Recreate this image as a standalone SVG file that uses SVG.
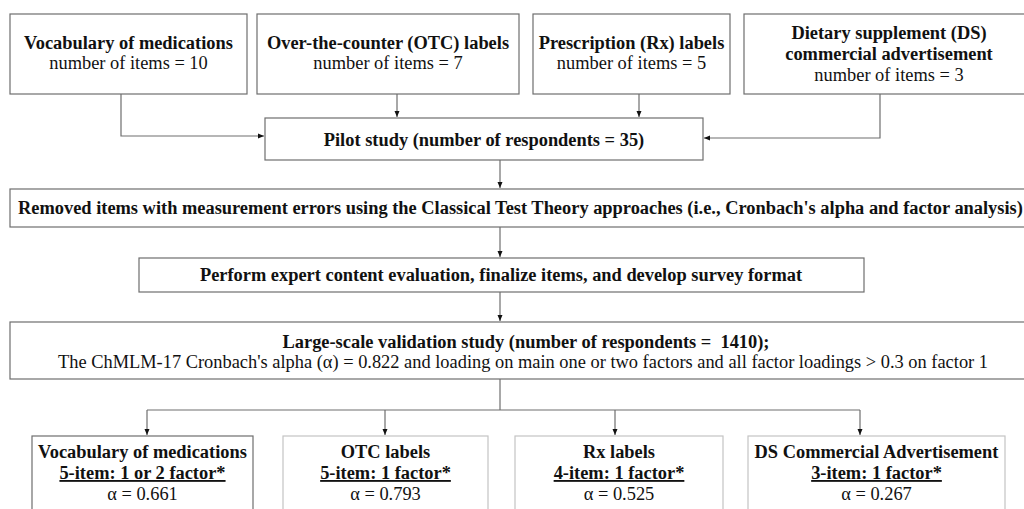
<svg xmlns="http://www.w3.org/2000/svg" width="1024" height="509" viewBox="0 0 1024 509">
<defs>
<marker id="ah" markerWidth="8" markerHeight="8" refX="6" refY="3.5" orient="auto" markerUnits="userSpaceOnUse">
<path d="M0,1 L6,3.5 L0,6 Z" fill="#111"/>
</marker>
<style>
.box{fill:#fff;stroke:#6e6e6e;stroke-width:1.2}
.lbox{fill:#fff;stroke:#c4c4c4;stroke-width:1.2}
.con{fill:none;stroke:#6e6e6e;stroke-width:1.2}
text{font-family:'Liberation Serif',serif;fill:#111;text-anchor:middle}
.b{font-weight:bold;font-size:18.4px}
.r{font-size:18.4px}
.u{text-decoration:underline}
</style>
</defs>
<rect width="1024" height="509" fill="#fff"/>
<g id="connectors">
<path class="con" d="M121,94 V136 H264" marker-end="url(#ah)"/>
<path class="con" d="M397,94 V117" marker-end="url(#ah)"/>
<path class="con" d="M639,94 V117" marker-end="url(#ah)"/>
<path class="con" d="M880,94 V138 H704" marker-end="url(#ah)"/>
<path class="con" d="M500,160 V188" marker-end="url(#ah)"/>
<path class="con" d="M500,227 V257" marker-end="url(#ah)"/>
<path class="con" d="M500,292 V321" marker-end="url(#ah)"/>
<path class="con" d="M500,379 V410"/>
<path class="con" d="M147,410 H860"/>
<path class="con" d="M147,410 V435" marker-end="url(#ah)"/>
<path class="con" d="M385,410 V435" marker-end="url(#ah)"/>
<path class="con" d="M615,410 V435" marker-end="url(#ah)"/>
<path class="con" d="M860,410 V435" marker-end="url(#ah)"/>
</g>
<g id="n-vocab">
<rect class="box" x="10" y="14" width="237" height="80"/>
<text class="b" x="128.5" y="49">Vocabulary of medications</text>
<text class="r" x="128.5" y="69">number of items = 10</text>
</g>
<g id="n-otc">
<rect class="box" x="257" y="14" width="262" height="80"/>
<text class="b" x="388" y="49">Over-the-counter (OTC) labels</text>
<text class="r" x="388" y="69">number of items = 7</text>
</g>
<g id="n-rx">
<rect class="box" x="533" y="14" width="197" height="80"/>
<text class="b" x="631.5" y="49">Prescription (Rx) labels</text>
<text class="r" x="631.5" y="69">number of items = 5</text>
</g>
<g id="n-ds">
<rect class="box" x="744" y="14" width="300" height="80"/>
<text class="b" x="889" y="39">Dietary supplement (DS)</text>
<text class="b" x="889" y="60">commercial advertisement</text>
<text class="r" x="889" y="81">number of items = 3</text>
</g>
<g id="n-pilot">
<rect class="box" x="265" y="118" width="438" height="42"/>
<text class="b" x="484" y="146">Pilot study (number of respondents = 35)</text>
</g>
<g id="n-removed">
<rect class="box" x="10" y="189" width="1040" height="38"/>
<text class="b" x="18" y="214" style="text-anchor:start">Removed items with measurement errors using the Classical Test Theory approaches (i.e., Cronbach's alpha and factor analysis)</text>
</g>
<g id="n-perform">
<rect class="box" x="139" y="258" width="725" height="34"/>
<text class="b" x="501" y="281">Perform expert content evaluation, finalize items, and develop survey format</text>
</g>
<g id="n-large">
<rect class="box" x="10" y="322" width="1030" height="57"/>
<text class="b" x="526" y="348" xml:space="preserve">Large-scale validation study (number of respondents =  1410);</text>
<text class="r" x="523" y="368">The ChMLM-17 Cronbach's alpha (α) = 0.822 and loading on main one or two factors and all factor loadings &gt; 0.3 on factor 1</text>
</g>
<g id="n-r-vocab">
<rect class="box" x="32" y="436" width="221" height="90"/>
<text class="b" x="142.5" y="458">Vocabulary of medications</text>
<text class="b u" x="142.5" y="479">5-item: 1 or 2 factor*</text>
<text class="r" x="142.5" y="500">α = 0.661</text>
</g>
<g id="n-r-otc">
<rect class="lbox" x="283" y="436" width="205" height="90"/>
<text class="b" x="385.5" y="458">OTC labels</text>
<text class="b u" x="385.5" y="479">5-item: 1 factor*</text>
<text class="r" x="385.5" y="500">α = 0.793</text>
</g>
<g id="n-r-rx">
<rect class="lbox" x="515" y="436" width="208" height="90"/>
<text class="b" x="619" y="458">Rx labels</text>
<text class="b u" x="619" y="479">4-item: 1 factor*</text>
<text class="r" x="619" y="500">α = 0.525</text>
</g>
<g id="n-r-ds">
<rect class="lbox" x="748" y="436" width="257" height="90"/>
<text class="b" x="876.5" y="458">DS Commercial Advertisement</text>
<text class="b u" x="876.5" y="479">3-item: 1 factor*</text>
<text class="r" x="876.5" y="500">α = 0.267</text>
</g>
</svg>
